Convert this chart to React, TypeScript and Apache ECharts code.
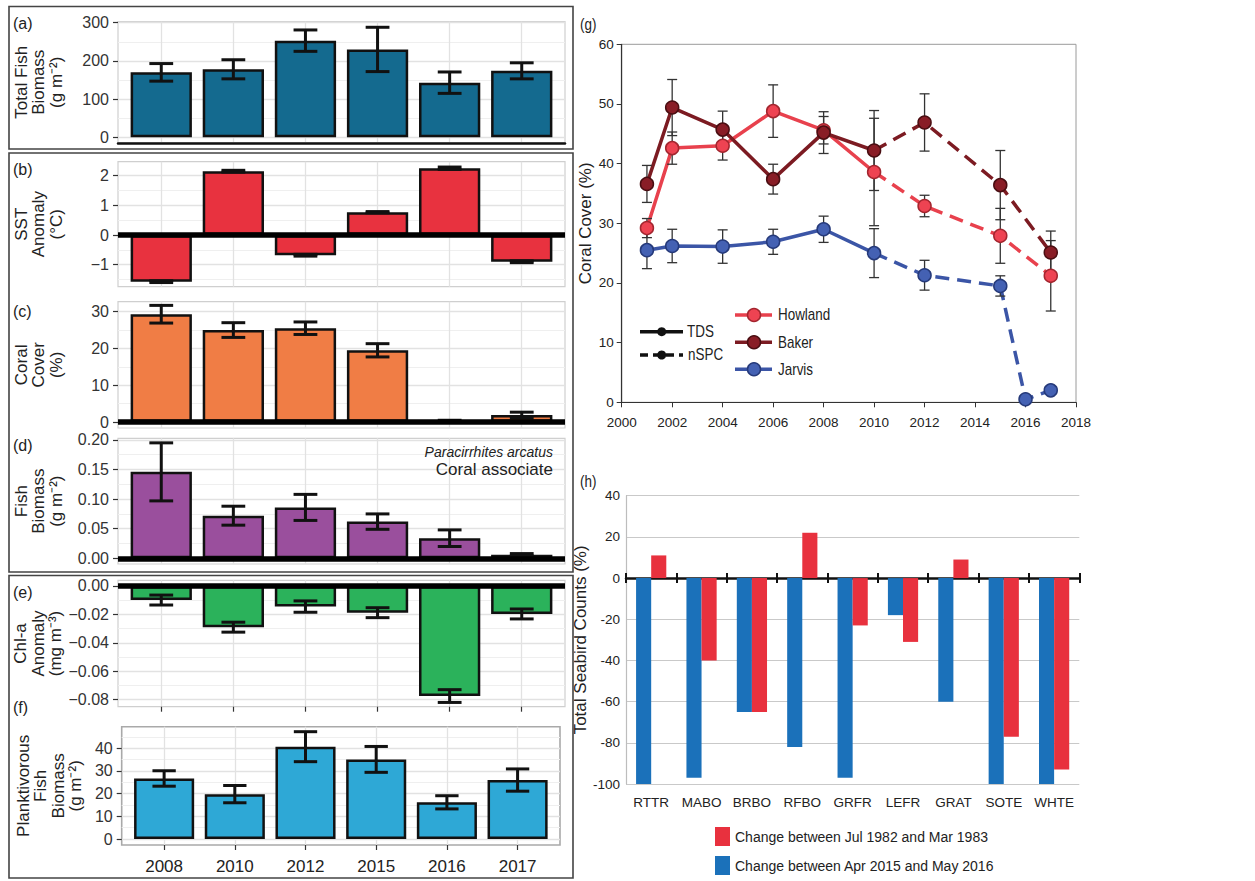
import React, { useEffect, useRef } from 'react';
import * as echarts from 'echarts';

// ---------------- data: left column (panels a-f) ----------------
const years = ['2008', '2010', '2012', '2015', '2016', '2017'];
const yearPos = [1, 2, 3, 4, 5, 6];

const totalFishBiomass = [170, 178, 253, 230, 143, 174];
const totalFishBiomassErr = [23, 25, 28, 58, 28, 21];
const sstAnomaly = [-1.57, 2.15, -0.68, 0.77, 2.25, -0.9];
const sstAnomalyErr = [0.03, 0.03, 0.03, 0.02, 0.04, 0.03];
const coralCover = [29.3, 25.0, 25.5, 19.5, 0.3, 1.9];
const coralCoverErr = [2.4, 2.0, 1.7, 1.8, 0.2, 0.8];
const coralFishBiomass = [0.146, 0.072, 0.086, 0.062, 0.034, 0.006];
const coralFishBiomassErr = [0.049, 0.016, 0.022, 0.013, 0.014, 0.002];
const chlAnomaly = [-0.0099, -0.029, -0.0145, -0.0188, -0.0775, -0.0197];
const chlAnomalyErr = [0.0035, 0.0035, 0.004, 0.0035, 0.0045, 0.0035];
const planktivoreBiomass = [26.7, 19.8, 40.7, 35.1, 16.2, 26.0];
const planktivoreBiomassErr = [3.4, 3.8, 6.6, 5.7, 2.9, 4.9];

const ticksA = [0, 100, 200, 300];
const minorA = [50, 150, 250];
const ticksB = [-1, 0, 1, 2];
const minorB = [-1.5, -0.5, 0.5, 1.5];
const ticksC = [0, 10, 20, 30];
const minorC = [5, 15, 25];
const ticksD = [0, 0.05, 0.1, 0.15, 0.2];
const minorD = [0.025, 0.075, 0.125, 0.175];
const ticksE = [0, -0.02, -0.04, -0.06, -0.08];
const minorE = [-0.01, -0.03, -0.05, -0.07];
const ticksF = [0, 10, 20, 30, 40];
const minorF = [5, 15, 25, 35, 45];

// ---------------- data: panel g (coral cover time series) ----------------
const TDS_LAST_YEAR = 2010;
const howlandYears = [2001, 2002, 2004, 2006, 2008, 2010, 2012, 2015, 2017];
const howlandCover = [29.2, 42.6, 43.0, 48.8, 45.6, 38.6, 32.9, 27.9, 21.2];
const howlandErr = [1.6, 2.7, 2.4, 4.4, 2.3, 9.0, 1.8, 4.6, 5.9];
const bakerYears = [2001, 2002, 2004, 2006, 2008, 2010, 2012, 2015, 2017];
const bakerCover = [36.6, 49.4, 45.7, 37.4, 45.2, 42.2, 46.9, 36.4, 25.1];
const bakerErr = [3.1, 4.7, 3.1, 2.5, 3.5, 6.7, 4.8, 5.8, 3.6];
const jarvisYears = [2001, 2002, 2004, 2006, 2008, 2010, 2012, 2015, 2016, 2017];
const jarvisCover = [25.5, 26.2, 26.1, 26.9, 29.0, 25.0, 21.3, 19.5, 0.5, 2.0];
const jarvisErr = [3.1, 2.8, 2.8, 2.1, 2.2, 4.1, 2.5, 1.7, 0, 0];

// ---------------- data: panel h (seabirds) ----------------
const birdCodes = ['RTTR', 'MABO', 'BRBO', 'RFBO', 'GRFR', 'LEFR', 'GRAT', 'SOTE', 'WHTE'];
const change2015 = [-100, -97, -65, -82, -97, -18, -60, -100, -100];
const change1982 = [11, -40, -65, 22, -23, -31, 9, -77, -93];
const name1982 = 'Change between Jul 1982 and Mar 1983';
const name2015 = 'Change between Apr 2015 and May 2016';

const FONT = "'Liberation Sans', Arial, Helvetica, sans-serif";
const NARROW_SCALE = 0.84;

const minusFmt = (d: number) => (v: number) => {
  const s = Math.abs(v).toFixed(d);
  return v < -1e-9 ? '\u2212' + s : s;
};

function errRenderer(capHalf: (api: any) => number, lineWidth: number, color: string) {
  return (_params: any, api: any) => {
    const x = api.value(0);
    const lo = api.value(1);
    const hi = api.value(2);
    const a = api.coord([x, hi]);
    const b = api.coord([x, lo]);
    const c = capHalf(api);
    const style = { stroke: color, lineWidth };
    return {
      type: 'group',
      children: [
        { type: 'line', shape: { x1: a[0], y1: a[1], x2: b[0], y2: b[1] }, style },
        { type: 'line', shape: { x1: a[0] - c, y1: a[1], x2: a[0] + c, y2: a[1] }, style },
        { type: 'line', shape: { x1: b[0] - c, y1: b[1], x2: b[0] + c, y2: b[1] }, style },
      ],
    };
  };
}

const leftPanels = [
  { values: totalFishBiomass, err: totalFishBiomassErr, color: '#146a8f', min: -14.4, max: 302.6, ticks: ticksA, minor: minorA, fmt: minusFmt(0), name: 'Total Fish\nBiomass\n(g m\u207B\u00B2)', top: 21.7, bottom: 142.8, left: 118, right: 565, zero: false, axisLine: true, xTicks: false, xLabels: false, border: '#cfcfcf', nameGap: 53 },
  { values: sstAnomaly, err: sstAnomalyErr, color: '#e8323f', min: -1.74, max: 2.47, ticks: ticksB, minor: minorB, fmt: minusFmt(0), name: 'SST\nAnomaly\n(\u00B0C)', top: 161.7, bottom: 286.7, left: 118, right: 565, zero: true, axisLine: false, xTicks: false, xLabels: false, border: '#cfcfcf', nameGap: 53 },
  { values: coralCover, err: coralCoverErr, color: '#f07d45', min: -1.6, max: 32.7, ticks: ticksC, minor: minorC, fmt: minusFmt(0), name: 'Coral\nCover\n(%)', top: 301.7, bottom: 428, left: 118, right: 565, zero: true, axisLine: false, xTicks: false, xLabels: false, border: '#cfcfcf', nameGap: 53 },
  { values: coralFishBiomass, err: coralFishBiomassErr, color: '#9a4f9d', min: -0.0096, max: 0.2027, ticks: ticksD, minor: minorD, fmt: minusFmt(2), name: 'Fish\nBiomass\n(g m\u207B\u00B2)', top: 438.3, bottom: 564, left: 118, right: 565, zero: true, axisLine: false, xTicks: false, xLabels: false, border: '#cfcfcf', nameGap: 53 },
  { values: chlAnomaly, err: chlAnomalyErr, color: '#2bb25b', min: -0.085, max: 0.004, ticks: ticksE, minor: minorE, fmt: minusFmt(2), name: 'Chl-a\nAnomaly\n(mg m\u207B\u00B3)', top: 580.3, bottom: 706.7, left: 118, right: 565, zero: true, axisLine: false, xTicks: true, xLabels: false, border: '#cfcfcf', nameGap: 53 },
  { values: planktivoreBiomass, err: planktivoreBiomassErr, color: '#2ea8d6', min: -2.6, max: 49.5, ticks: ticksF, minor: minorF, fmt: minusFmt(0), name: 'Planktivorous\nFish\nBiomass\n(g m\u207B\u00B2)', top: 726.7, bottom: 845, left: 121.7, right: 560, zero: false, axisLine: false, xTicks: true, xLabels: true, border: '#a9a9a9', nameGap: 37 },
];

const pairs = (ys: number[], vs: number[]) => ys.map((y, i) => [y, vs[i]]);
const tdsPart = (ys: number[], vs: number[]) => pairs(ys, vs).filter((p) => p[0] <= TDS_LAST_YEAR);
const nspcPart = (ys: number[], vs: number[]) => pairs(ys, vs).filter((p) => p[0] >= TDS_LAST_YEAR);
const errPart = (ys: number[], vs: number[], es: number[]) =>
  ys.map((y, i) => [y, vs[i] - es[i], vs[i] + es[i], es[i]]).filter((d) => d[3] > 0);

const sites = [
  { name: 'Howland', years: howlandYears, vals: howlandCover, err: howlandErr, line: '#e8414d', fill: '#ee4352', stroke: '#a3262f' },
  { name: 'Baker', years: bakerYears, vals: bakerCover, err: bakerErr, line: '#7c1b22', fill: '#891d26', stroke: '#4a0e12' },
  { name: 'Jarvis', years: jarvisYears, vals: jarvisCover, err: jarvisErr, line: '#3b55a6', fill: '#4461b3', stroke: '#263a7a' },
];

function buildOption() {
  const grid: any[] = [];
  const xAxis: any[] = [];
  const yAxis: any[] = [];
  const series: any[] = [];

  leftPanels.forEach((p, i) => {
    grid.push({
      left: p.left, top: p.top, width: p.right - p.left, height: p.bottom - p.top,
      show: true, backgroundColor: '#ffffff', borderColor: p.border, borderWidth: i === 5 ? 1.6 : 1.2,
    });
    xAxis.push({
      type: 'value', gridIndex: i, min: 0.4, max: 6.6,
      axisLine: { show: p.axisLine, onZero: false, lineStyle: { color: '#111', width: 2.5 } },
      axisTick: { show: p.xTicks, customValues: yearPos, length: 5, lineStyle: { color: '#333', width: 1.2 } },
      axisLabel: {
        show: p.xLabels, customValues: yearPos, formatter: (v: number) => years[Math.round(v) - 1] || '',
        fontSize: 17, color: '#222', fontFamily: FONT, margin: 13,
      },
      splitLine: { show: true, customValues: yearPos, lineStyle: { color: '#e2e2e2', width: 1.3 } },
    });
  });
  leftPanels.forEach((p, i) => {
    yAxis.push({
      type: 'value', gridIndex: i, min: p.min, max: p.max,
      name: p.name, nameLocation: 'middle', nameRotate: 90, nameGap: p.nameGap,
      nameTextStyle: { fontSize: 17, lineHeight: 17.5, color: '#222', fontFamily: FONT },
      axisLine: { show: false },
      axisTick: { show: true, customValues: p.ticks, length: 5, lineStyle: { color: '#333', width: 1.2 } },
      axisLabel: { customValues: p.ticks, formatter: p.fmt, fontSize: 16, color: '#333', fontFamily: FONT, margin: 9 },
      splitLine: { show: true, customValues: p.ticks, lineStyle: { color: '#e2e2e2', width: 1.3 } },
    });
  });
  leftPanels.forEach((p, i) => {
    yAxis.push({
      type: 'value', gridIndex: i, min: p.min, max: p.max, position: 'right',
      axisLine: { show: false },
      axisTick: { show: false, customValues: p.minor },
      axisLabel: { show: false, customValues: p.minor },
      splitLine: { show: true, customValues: p.minor, lineStyle: { color: '#efefef', width: 1 } },
    });
  });

  leftPanels.forEach((p, i) => {
    series.push({
      type: 'bar', xAxisIndex: i, yAxisIndex: i, z: 2,
      data: p.values.map((v, k) => [yearPos[k], v]),
      barWidth: '85%',
      itemStyle: { color: p.color, borderColor: '#111', borderWidth: 2.5 },
      markLine: p.zero
        ? { silent: true, symbol: 'none', label: { show: false }, lineStyle: { color: '#000', width: 5.5, type: 'solid' }, data: [{ yAxis: 0 }], z: 4 }
        : undefined,
    });
    series.push({
      type: 'custom', xAxisIndex: i, yAxisIndex: i, z: 3,
      encode: { x: 0, y: [1, 2] },
      data: p.values.map((v, k) => [yearPos[k], v - p.err[k], v + p.err[k]]),
      renderItem: errRenderer((api) => api.size([0.165, 0])[0], 3, '#111'),
    });
  });

  // ---------- panel g ----------
  grid.push({ left: 621.7, top: 44.3, width: 454.3, height: 358, show: true, borderColor: '#9a9a9a', borderWidth: 1 });
  xAxis.push({
    type: 'value', gridIndex: 6, min: 2000, max: 2018, interval: 2,
    axisLine: { show: true, onZero: false, lineStyle: { color: '#333', width: 1.2 } },
    axisTick: { show: true, length: 5, lineStyle: { color: '#333' } },
    axisLabel: { fontSize: 13.5, color: '#222', fontFamily: FONT, margin: 13, formatter: (v: number) => String(v) },
    splitLine: { show: false },
  });
  yAxis.push({
    type: 'value', gridIndex: 6, min: 0, max: 60, interval: 10,
    name: 'Coral Cover (%)', nameLocation: 'middle', nameRotate: 90, nameGap: 28,
    nameTextStyle: { fontSize: 17, color: '#222', fontFamily: FONT },
    axisLine: { show: true, lineStyle: { color: '#333', width: 1.2 } },
    axisTick: { show: true, length: 5, lineStyle: { color: '#333' } },
    axisLabel: { fontSize: 13.5, color: '#222', fontFamily: FONT, margin: 8 },
    splitLine: { show: false },
  });
  sites.forEach((s) => {
    series.push({
      type: 'line', xAxisIndex: 6, yAxisIndex: 12, z: 2, showSymbol: false, symbol: 'none',
      data: tdsPart(s.years, s.vals), lineStyle: { color: s.line, width: 3.5, type: 'solid' },
    });
    series.push({
      type: 'line', xAxisIndex: 6, yAxisIndex: 12, z: 2, showSymbol: false, symbol: 'none',
      data: nspcPart(s.years, s.vals), lineStyle: { color: s.line, width: 3.5, type: [14, 8] },
    });
  });
  sites.forEach((s) => {
    series.push({
      type: 'custom', xAxisIndex: 6, yAxisIndex: 12, z: 3, encode: { x: 0, y: [1, 2] },
      data: errPart(s.years, s.vals, s.err),
      renderItem: errRenderer(() => 5, 1.3, '#333'),
    });
  });
  sites.forEach((s) => {
    series.push({
      type: 'scatter', name: s.name, xAxisIndex: 6, yAxisIndex: 12, z: 5,
      data: pairs(s.years, s.vals), symbol: 'circle', symbolSize: 13,
      itemStyle: { color: s.fill, borderColor: s.stroke, borderWidth: 1.5, opacity: 1 },
    });
  });

  // ---------- panel h ----------
  grid.push({ left: 626, top: 495.7, width: 453.3, height: 288.3, show: false });
  xAxis.push({
    type: 'category', gridIndex: 7, data: birdCodes, position: 'bottom',
    axisLine: { show: false, onZero: false },
    axisTick: { show: false },
    axisLabel: { fontSize: 13.5, color: '#222', fontFamily: FONT, margin: 11, interval: 0 },
    splitLine: { show: false },
  });
  xAxis.push({
    type: 'category', gridIndex: 7, data: birdCodes, position: 'top',
    axisLine: { show: true, onZero: true, onZeroAxisIndex: 13, lineStyle: { color: '#111', width: 2.5 } },
    axisTick: { show: true, length: 5, interval: 0, lineStyle: { color: '#111', width: 2 } },
    axisLabel: { show: false },
    splitLine: { show: false },
  });
  xAxis.push({
    type: 'category', gridIndex: 7, data: birdCodes, position: 'top',
    axisLine: { show: false, onZero: true, onZeroAxisIndex: 13 },
    axisTick: { show: true, inside: true, length: 5, interval: 0, lineStyle: { color: '#111', width: 2 } },
    axisLabel: { show: false },
    splitLine: { show: false },
  });
  yAxis.push({
    type: 'value', gridIndex: 7, min: -100, max: 40, interval: 20,
    name: 'Total Seabird Counts (%)', nameLocation: 'middle', nameRotate: 90, nameGap: 33,
    nameTextStyle: { fontSize: 17, color: '#222', fontFamily: FONT },
    axisLine: { show: true, lineStyle: { color: '#bdbdbd', width: 1.2 } },
    axisTick: { show: false },
    axisLabel: { fontSize: 13.5, color: '#222', fontFamily: FONT, margin: 6 },
    splitLine: { show: true, lineStyle: { color: '#c9c9c9', width: 1.2 } },
  });
  series.push({
    type: 'bar', name: name2015, xAxisIndex: 7, yAxisIndex: 13, data: change2015,
    itemStyle: { color: '#1b71ba' }, barGap: '0%', barCategoryGap: '40%', z: 2,
  });
  series.push({
    type: 'bar', name: name1982, xAxisIndex: 7, yAxisIndex: 13, data: change1982,
    itemStyle: { color: '#e8313e' }, barGap: '0%', barCategoryGap: '40%', z: 2,
  });

  // ---------- decoration ----------
  const txt = (text: string, x: number, y: number, extra: any = {}) => ({
    type: 'text', z: 20,
    style: { text, x, y, verticalAlign: 'middle', fontSize: 16, fill: '#222', fontFamily: FONT, ...extra },
  });
  const narrowTxt = (text: string, x: number, y: number, extra: any = {}) => ({
    type: 'text', z: 20, x, y, scaleX: NARROW_SCALE,
    style: { text, x: 0, y: 0, verticalAlign: 'middle', fontSize: 16, fill: '#222', fontFamily: FONT, ...extra },
  });
  const box = (x: number, y: number, w: number, h: number) => ({
    type: 'rect', z: 15, shape: { x, y, width: w, height: h },
    style: { fill: 'none', stroke: '#444', lineWidth: 1.6 },
  });
  const graphic: any[] = [
    box(9, 6.5, 564, 142.5),
    box(9, 153, 564, 419),
    box(9, 575.5, 564, 302.5),
    txt('(a)', 13, 23.5),
    txt('(b)', 13, 169),
    txt('(c)', 13, 311),
    txt('(d)', 13, 445),
    txt('(e)', 13, 592),
    txt('(f)', 13, 707),
    narrowTxt('(g)', 580, 25),
    narrowTxt('(h)', 580, 482),
    txt('Paracirrhites arcatus', 553, 452, { textAlign: 'right', fontStyle: 'italic', fontSize: 14 }),
    txt('Coral associate', 553, 469.5, { textAlign: 'right', fontSize: 17 }),
    // method legend (panel g)
    { type: 'line', z: 20, shape: { x1: 640, y1: 331.7, x2: 683, y2: 331.7 }, style: { stroke: '#111', lineWidth: 3.5 } },
    { type: 'circle', z: 21, shape: { cx: 661.7, cy: 331.7, r: 4.5 }, style: { fill: '#111' } },
    narrowTxt('TDS', 687, 331.7),
    { type: 'line', z: 20, shape: { x1: 640, y1: 355, x2: 683, y2: 355 }, style: { stroke: '#111', lineWidth: 3.5, lineDash: [8, 5] } },
    { type: 'circle', z: 21, shape: { cx: 661.7, cy: 355, r: 4.5 }, style: { fill: '#111' } },
    narrowTxt('nSPC', 688, 355),
  ];
  const siteLegendY = [315, 342.3, 369.3];
  sites.forEach((s, i) => {
    const y = siteLegendY[i];
    graphic.push({ type: 'line', z: 20, shape: { x1: 735, y1: y, x2: 772, y2: y }, style: { stroke: s.line, lineWidth: 3.5 } });
    graphic.push({ type: 'circle', z: 21, shape: { cx: 754, cy: y, r: 6.5 }, style: { fill: s.fill, stroke: s.stroke, lineWidth: 1.5 } });
    graphic.push(narrowTxt(s.name, 778, y));
  });

  return {
    animation: false,
    backgroundColor: '#ffffff',
    textStyle: { fontFamily: FONT },
    grid,
    xAxis,
    yAxis,
    series,
    legend: {
      data: [name1982, name2015], orient: 'vertical', left: 710, top: 822,
      itemWidth: 15, itemHeight: 19, itemGap: 10, icon: 'rect', selectedMode: false,
      textStyle: { fontSize: 14, color: '#222', fontFamily: FONT },
    },
    graphic,
  };
}

export default function App() {
  const ref = useRef<HTMLDivElement>(null);
  useEffect(() => {
    if (!ref.current) return;
    const chart = echarts.init(ref.current, null, { renderer: 'svg' });
    chart.setOption(buildOption() as any);
    return () => chart.dispose();
  }, []);
  return (
    <div
      ref={ref}
      style={{ position: 'fixed', left: 0, top: 0, width: 1255, height: 881, background: '#fff' }}
    />
  );
}
